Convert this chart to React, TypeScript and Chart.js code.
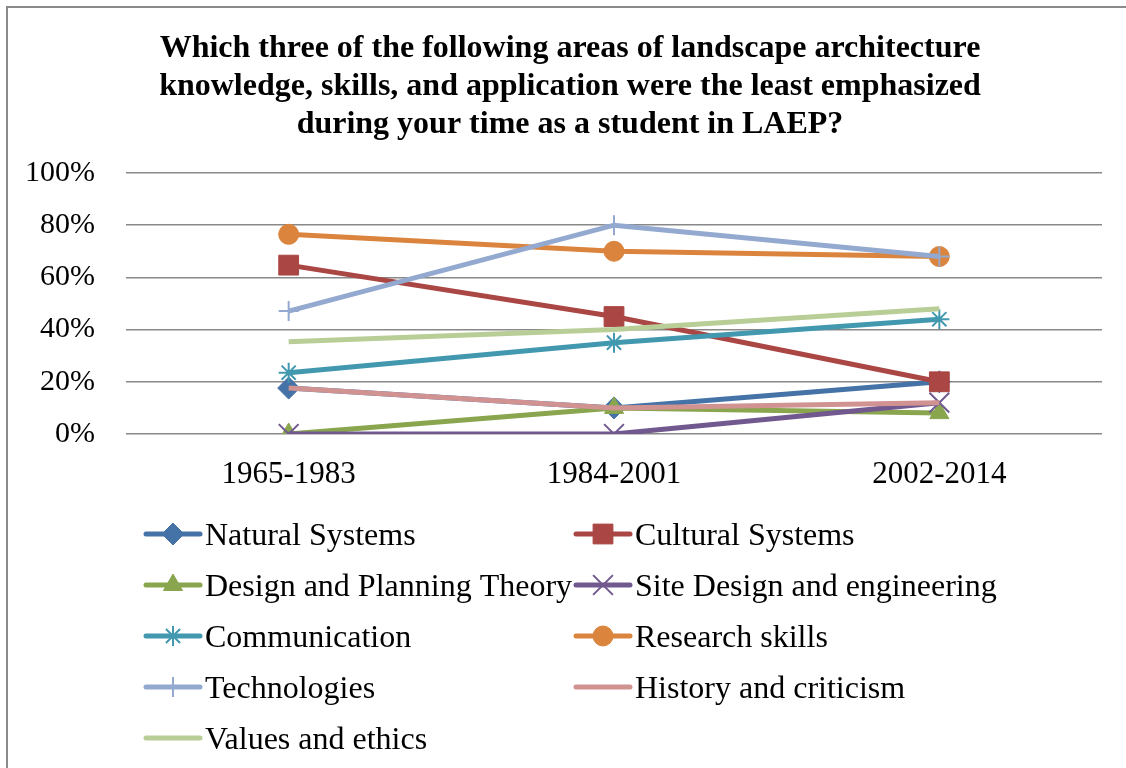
import React, { useEffect, useRef } from "react";
import { Chart, registerables } from "chart.js";
import { drawPoint } from "chart.js/helpers";

Chart.register(...registerables);

const titleLines = [
  "Which three of the following areas of landscape architecture",
  "knowledge, skills, and application were the least emphasized",
  "during your time as a student in LAEP?",
];

const categories = ["1965-1983", "1984-2001", "2002-2014"];
const yTicks = [0, 20, 40, 60, 80, 100];

const seriesNames = [
  "Natural Systems",
  "Cultural Systems",
  "Design and Planning Theory",
  "Site Design and engineering",
  "Communication",
  "Research skills",
  "Technologies",
  "History and criticism",
  "Values and ethics",
];

const naturalSystems = [17.6, 10, 20];
const culturalSystems = [64.7, 45, 20];
const designPlanningTheory = [0, 10, 8];
const siteDesignEngineering = [0, 0, 12];
const communication = [23.5, 35, 44];
const researchSkills = [76.5, 70, 68];
const technologies = [47.1, 80, 68];
const historyCriticism = [17.6, 10, 12];
const valuesEthics = [35.3, 40, 48];

const seriesValues = [
  naturalSystems,
  culturalSystems,
  designPlanningTheory,
  siteDesignEngineering,
  communication,
  researchSkills,
  technologies,
  historyCriticism,
  valuesEthics,
];

const colors = [
  "#4572A7",
  "#AA4643",
  "#89A54E",
  "#71588F",
  "#4198AF",
  "#DB843D",
  "#93A9CF",
  "#D09392",
  "#B9CD96",
];

const markers: any[] = ["rectRot", "rect", "triangle", "crossRot", "star", "circle", "cross", false, false];
const markerRadius = [11, 14, 11, 14, 10, 10, 10, 0, 0];
const markerBorder = [1, 1, 1, 2, 2, 1, 2, 0, 0];

const FONT = "'Liberation Serif', 'Times New Roman', serif";

const framePlugin = {
  id: "frame",
  beforeDraw(chart: any) {
    const ctx = chart.ctx;
    ctx.save();
    ctx.fillStyle = "#ffffff";
    ctx.fillRect(0, 0, chart.width, chart.height);
    ctx.strokeStyle = "#8a8a8a";
    ctx.lineWidth = 2;
    ctx.beginPath();
    ctx.moveTo(7, chart.height);
    ctx.lineTo(7, 7);
    ctx.lineTo(chart.width, 7);
    ctx.stroke();
    ctx.restore();
  },
};

const titlePlugin = {
  id: "customTitle",
  afterDraw(chart: any) {
    const ctx = chart.ctx;
    ctx.save();
    ctx.fillStyle = "#000";
    ctx.font = `bold 32px ${FONT}`;
    ctx.textAlign = "center";
    ctx.textBaseline = "middle";
    titleLines.forEach((t, i) => ctx.fillText(t, 570, 49 + i * 38));
    ctx.restore();
  },
};

const legendPlugin = {
  id: "customLegend",
  afterDraw(chart: any) {
    const ctx = chart.ctx;
    ctx.save();
    chart.data.datasets.forEach((ds: any, i: number) => {
      const col = i % 2;
      const row = Math.floor(i / 2);
      const x0 = col === 0 ? 146 : 576;
      const y = 534 + row * 51;
      ctx.strokeStyle = ds.borderColor;
      ctx.lineWidth = 5;
      ctx.lineCap = "round";
      ctx.beginPath();
      ctx.moveTo(x0, y);
      ctx.lineTo(x0 + 54, y);
      ctx.stroke();
      if (ds.pointStyle) {
        ctx.fillStyle = ds.pointBackgroundColor;
        ctx.strokeStyle = ds.pointBorderColor;
        ctx.lineWidth = ds.pointBorderWidth;
        ctx.lineCap = "butt";
        drawPoint(ctx, { pointStyle: ds.pointStyle, radius: ds.pointRadius, rotation: 0, borderWidth: ds.pointBorderWidth }, x0 + 27, y);
      }
      ctx.fillStyle = "#000";
      ctx.font = `32px ${FONT}`;
      ctx.textAlign = "left";
      ctx.textBaseline = "middle";
      ctx.fillText(ds.label, x0 + 59, y + 3);
    });
    ctx.restore();
  },
};

export default function App() {
  const ref = useRef<HTMLCanvasElement>(null);
  useEffect(() => {
    if (!ref.current) return;
    const n = seriesValues.length;
    const chart = new Chart(ref.current, {
      type: "line",
      data: {
        labels: categories,
        datasets: seriesValues.map((vals, i) => ({
          label: seriesNames[i],
          data: vals,
          borderColor: colors[i],
          backgroundColor: colors[i],
          borderWidth: 5,
          tension: 0,
          pointStyle: markers[i],
          pointRadius: markerRadius[i],
          pointHoverRadius: markerRadius[i],
          pointBackgroundColor: colors[i],
          pointBorderColor: colors[i],
          pointBorderWidth: markerBorder[i],
          order: n - 1 - i,
        })),
      },
      options: {
        animation: false,
        responsive: false,
        layout: { padding: { left: 0, right: 24, top: 173, bottom: 274 } },
        plugins: {
          legend: { display: false },
          title: { display: false },
          tooltip: { enabled: false },
        },
        scales: {
          x: {
            offset: true,
            grid: { display: false },
            border: { display: false },
            ticks: { color: "#000", font: { family: FONT, size: 31 }, padding: 14 },
            afterFit: (s: any) => {
              s.height = 60;
            },
          },
          y: {
            min: 0,
            max: 100,
            afterBuildTicks: (s: any) => {
              s.ticks = yTicks.map((v) => ({ value: v }));
            },
            ticks: {
              color: "#000",
              font: { family: FONT, size: 30 },
              padding: 31,
              callback: (v: any) => v + "%",
            },
            grid: { color: "#888888", lineWidth: 1.5, drawTicks: false },
            border: { display: false },
            afterFit: (s: any) => {
              s.width = 126;
            },
          },
        },
      },
      plugins: [framePlugin, titlePlugin, legendPlugin],
    });
    return () => chart.destroy();
  }, []);
  return (
    <div style={{ position: "fixed", left: 0, top: 0, width: 1126, height: 768, overflow: "hidden" }}>
      <canvas ref={ref} width={1126} height={768} style={{ display: "block", width: 1126, height: 768 }} />
    </div>
  );
}
